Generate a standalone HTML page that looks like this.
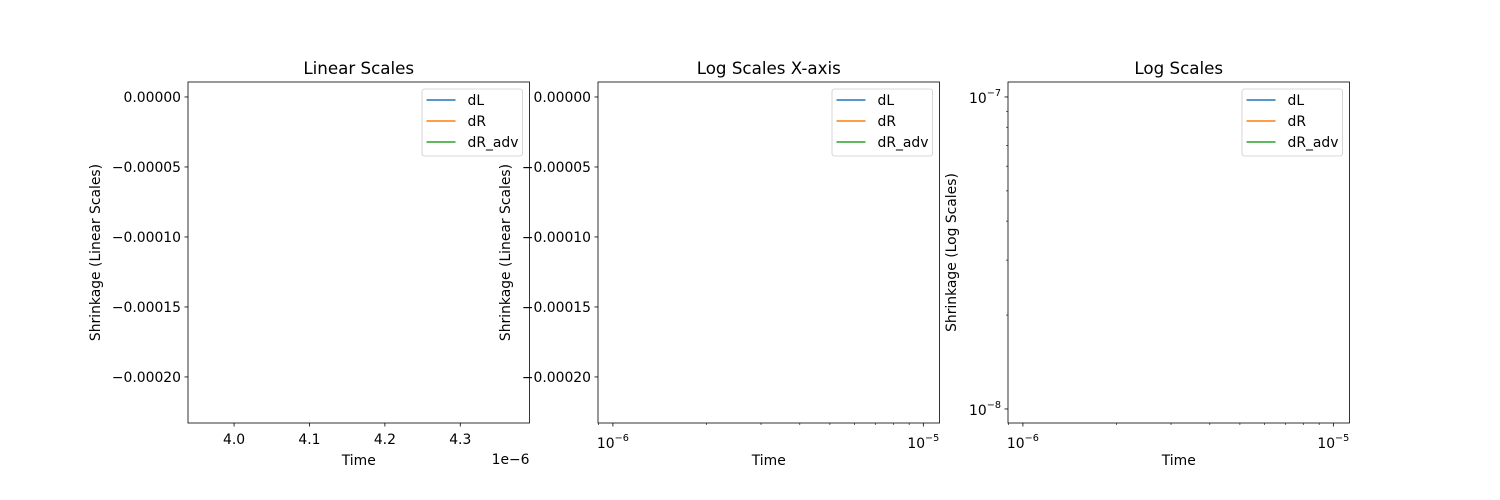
<!DOCTYPE html>
<html><head><meta charset="utf-8"><style>body{margin:0;background:#fff}svg{display:block;font-family:"DejaVu Sans","Liberation Sans",sans-serif}</style></head>
<body>
<svg id="fig" width="1500" height="500" viewBox="0 0 1500 500"></svg>
<script>
const linTicksX=[4.0,4.1,4.2,4.3];
const linTickLabelsX=["4.0","4.1","4.2","4.3"];
const linTicksY=[0,-0.00005,-0.0001,-0.00015,-0.0002];
const linTickLabelsY=["0.00000","\u22120.00005","\u22120.00010","\u22120.00015","\u22120.00020"];
const logDecadesX=[-6,-5];
const logDecadesY=[-8,-7];
const seriesNames=["dL","dR","dR_adv"];
const seriesColors=["#1f77b4","#ff7f0e","#2ca02c"];
const titles=["Linear Scales","Log Scales X-axis","Log Scales"];
const yTitles=["Shrinkage (Linear Scales)","Shrinkage (Linear Scales)","Shrinkage (Log Scales)"];
const linXDomain=[3.9389,4.3918];
const linYDomain=[-0.0002329,0.0000107];
const logXDomain=[-6.048,-4.948];
const logYDomain=[-8.045,-6.952];

const svg=document.getElementById('fig');
const NS='http://www.w3.org/2000/svg';
function mk(tag,attrs,parent){const e=document.createElementNS(NS,tag);for(const k in attrs)e.setAttribute(k,attrs[k]);(parent||svg).appendChild(e);return e;}
const T=82,B=423;
const FS=13.9;
const lefts=[188,598,1008],W=341.5;
function scale(d,r){return v=>r[0]+(v-d[0])/(d[1]-d[0])*(r[1]-r[0]);}

lefts.forEach((L,i)=>{
  const g=mk('g',{});
  
  
  const R=L+W;
  const logX=i>0, logY=i===2;
  const sx=scale(logX?logXDomain:linXDomain,[L,R]);
  const sy=scale(logY?logYDomain:linYDomain,[B,T]);
  if(!logX){
    linTicksX.forEach((v,j)=>{const x=sx(v);
      mk('line',{x1:x,x2:x,y1:B,y2:B+3.5,stroke:'#000','stroke-width':0.8},g);
      const t=mk('text',{x:x,y:B+21,'font-size':FS,'text-anchor':'middle'},g);t.textContent=linTickLabelsX[j];
      });
    const o=mk('text',{x:R,y:B+41,'font-size':FS,'text-anchor':'end'},g);o.textContent='1e\u22126';
  } else {
    for(let d=-7;d<=-5;d++){for(let m=1;m<10;m++){const v=d+Math.log10(m);
      if(v<logXDomain[0]||v>logXDomain[1])continue;const x=sx(v);
      mk('line',{x1:x,x2:x,y1:B,y2:B+(m===1?3.5:2),stroke:'#000','stroke-width':m===1?0.8:0.6},g);}}
    logDecadesX.forEach(d=>{const x=sx(d);
      const t=mk('text',{x:x,y:B+25,'font-size':FS,'text-anchor':'middle'},g);
      
      t.innerHTML='10<tspan dy="-7" font-size="9.7">\u2212'+(-d)+'</tspan>';});
  }
  if(!logY){
    linTicksY.forEach((v,j)=>{const y=sy(v);
      mk('line',{x1:L,x2:L-3.5,y1:y,y2:y,stroke:'#000','stroke-width':0.8},g);
      const t=mk('text',{x:L-7,y:y+5,'font-size':FS,'text-anchor':'end'},g);t.textContent=linTickLabelsY[j];
      });
  } else {
    for(let d=-9;d<=-7;d++){for(let m=1;m<10;m++){const v=d+Math.log10(m);
      if(v<logYDomain[0]||v>logYDomain[1])continue;const y=sy(v);
      mk('line',{x1:L,x2:L-(m===1?3.5:2),y1:y,y2:y,stroke:'#000','stroke-width':m===1?0.8:0.6},g);}}
    logDecadesY.forEach(d=>{const y=sy(d);
      const t=mk('text',{x:L-7,y:y+6,'font-size':FS,'text-anchor':'end'},g);
      
      t.innerHTML='10<tspan dy="-7" font-size="9.7">\u2212'+(-d)+'</tspan>';});
  }
  const fr=mk('rect',{x:L,y:T,width:W,height:B-T,fill:'none',stroke:'#000','stroke-width':0.8},g);
  
  const tt=mk('text',{x:L+W/2,y:T-8,'font-size':16.7,'text-anchor':'middle'},g);tt.textContent=titles[i];
  
  const xt=mk('text',{x:L+W/2,y:B+42,'font-size':FS,'text-anchor':'middle'},g);xt.textContent='Time';
  
  const yx=i===2?956:(i===0?100:510);
  const yt=mk('text',{x:yx,y:(T+B)/2,'font-size':FS,'text-anchor':'middle',transform:'rotate(-90 '+yx+' '+(T+B)/2+')'},g);yt.textContent=yTitles[i];
  
  const lg=mk('g',{},g);
  
  mk('rect',{x:R-107.5,y:89,width:100.5,height:67,rx:2.5,fill:'#fff','fill-opacity':0.8,stroke:'#ccc','stroke-width':0.8},lg);
  seriesNames.forEach((n,j)=>{const y=100+j*21;
    const en=mk('g',{},lg);
    mk('line',{x1:R-103,x2:R-74,y1:y,y2:y,stroke:seriesColors[j],'stroke-width':1.5},en);
    const t=mk('text',{x:R-62,y:y+5,'font-size':FS},en);t.textContent=n;});
});
</script>
</body></html>
